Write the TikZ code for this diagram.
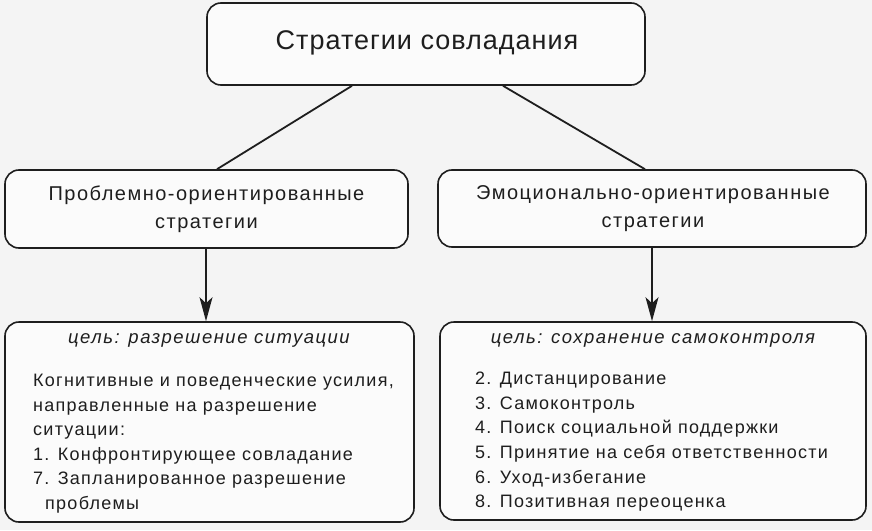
\documentclass[tikz,border=0pt]{standalone}
\usepackage{fontspec}
\setmainfont{Liberation Sans}
\newfontfamily\headfont[LetterSpace=3.7]{Liberation Sans}
\newfontfamily\midfont[LetterSpace=7.5]{Liberation Sans}
\newfontfamily\wide[LetterSpace=7]{Liberation Sans}
\newfontfamily\goalfont[LetterSpace=8]{Liberation Sans}
\usetikzlibrary{arrows.meta,calc}
\definecolor{bg}{HTML}{F4F4F4}
\definecolor{boxfill}{HTML}{FBFBFB}
\definecolor{ink}{HTML}{1E1E1E}
\tikzset{
  rbox/.style={draw=ink, line width=1.6pt, rounded corners=14pt, fill=boxfill, inner sep=0pt},
  headtxt/.style={font=\headfont\fontsize{27}{30}\selectfont, text=ink, align=center},
  midtxt/.style={font=\midfont\fontsize{20}{28}\selectfont, text=ink, align=center},
  goaltxt/.style={font=\goalfont\itshape\fontsize{18.5}{20}\selectfont, text=ink},
  bodytxt/.style={font=\wide\fontsize{18}{24.6}\selectfont, text=ink, align=left, inner sep=0pt},
  link/.style={draw=ink, line width=1.8pt},
  arr/.style={draw=ink, line width=1.4pt, -{Stealth[length=24pt,width=13pt,inset=6pt]}}
}
\begin{document}
\begin{tikzpicture}[x=1pt,y=-1pt]
\useasboundingbox[fill=bg] (0,0) rectangle (872,530);
\node[rbox, minimum width=438pt, minimum height=82pt] (top) at (426,44) {};
\node[headtxt] (toptxt) at (427,43) {Стратегии совладания};
\node[rbox, minimum width=403pt, minimum height=78pt] (left) at (206.5,209) {};
\node[midtxt] (lefttxt) at (206.5,209) {Проблемно-ориентированные\\стратегии};
\node[rbox, minimum width=428pt, minimum height=77pt] (right) at (652,208.5) {};
\node[midtxt] (righttxt) at (653,209) {Эмоционально-ориентированные\\стратегии};
\node[rbox, minimum width=409pt, minimum height=200pt] (bl) at (209.5,422) {};
\node[rbox, minimum width=426pt, minimum height=198pt] (br) at (653,421) {};
\node[goaltxt] (blgoal) at (209,340) {цель: разрешение ситуации};
\node[goaltxt] (brgoal) at (653,340) {цель: сохранение самоконтроля};
\node[bodytxt, anchor=north west] (blbody) at (33,374) {Когнитивные и поведенческие усилия,\\направленные на разрешение\\ситуации:\\1. Конфронтирующее совладание\\7. Запланированное разрешение\\\hspace*{12pt}проблемы};
\node[bodytxt, anchor=north west] (brbody) at (475,372) {2. Дистанцирование\\3. Самоконтроль\\4. Поиск социальной поддержки\\5. Принятие на себя ответственности\\6. Уход-избегание\\8. Позитивная переоценка};
\draw[link] ([xshift=-74pt]top.south) -- ([xshift=10.5pt]left.north);
\draw[link] ([xshift=77pt]top.south) -- ([xshift=-7pt]right.north);
\draw[arr] ([xshift=-0.5pt]left.south) -- ([xshift=-0.5pt]left.south |- bl.north);
\draw[arr] (right.south) -- (right.south |- br.north);
\end{tikzpicture}
\end{document}
